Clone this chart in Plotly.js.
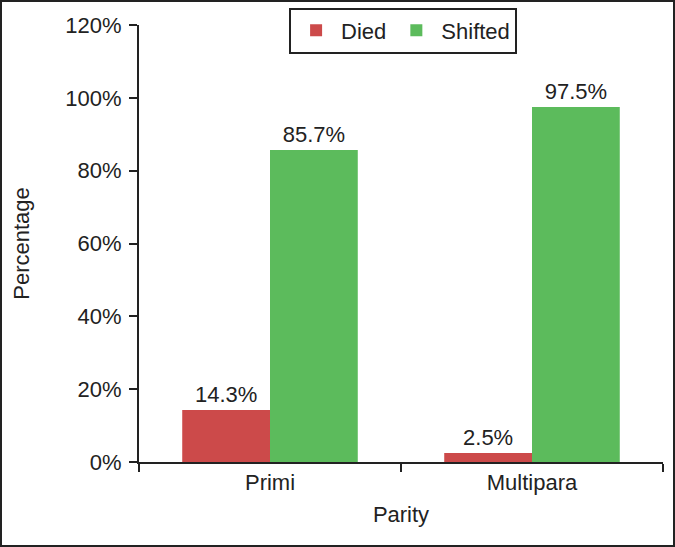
<!DOCTYPE html>
<html>
<head>
<meta charset="utf-8">
<script src="https://cdn.plot.ly/plotly-3.0.1.min.js"></script>
<style>
html,body{margin:0;padding:0;background:#fff;}
#chart{width:671px;height:543px;border:2px solid #222;}
</style>
</head>
<body>
<div id="chart"></div>
<script>
const categories = ["Primi", "Multipara"];
const died = [14.3, 2.5];
const shifted = [85.7, 97.5];
const yTickVals = [0, 20, 40, 60, 80, 100, 120];
const yTickText = ["0%", "20%", "40%", "60%", "80%", "100%", "120%"];

const font = {family: "Liberation Sans, Arial, sans-serif", color: "#222", size: 22};

const traces = [
  {type: "bar", name: "Died", x: categories, y: died,
   marker: {color: "#CC4A4A"},
   text: died.map(v => v.toFixed(1) + "%"), textposition: "outside",
   textfont: font, cliponaxis: false, hoverinfo: "skip"},
  {type: "bar", name: "Shifted", x: categories, y: shifted,
   marker: {color: "#5CBB5C"},
   text: shifted.map(v => v.toFixed(1) + "%"), textposition: "outside",
   textfont: font, cliponaxis: false, hoverinfo: "skip"}
];

const layout = {
  width: 671, height: 543,
  margin: {l: 137, r: 10, t: 23, b: 83, autoexpand: false},
  paper_bgcolor: "#fff", plot_bgcolor: "#fff",
  font: font,
  barmode: "group", bargap: 0.33, bargroupgap: 0,
  showlegend: true,
  legend: {orientation: "h", x: 0.504, xanchor: "center", y: 1.04, yanchor: "top",
           bordercolor: "#222", borderwidth: 2, font: font,
           traceorder: "normal", itemwidth: 40},
  xaxis: {showline: true, linecolor: "#222", linewidth: 2, ticks: "outside", tickson: "boundaries",
          ticklen: 8, tickwidth: 2, tickcolor: "#222", showgrid: false, zeroline: false,
          tickfont: font, title: {text: "Parity", font: font, standoff: 12}},
  yaxis: {range: [0, 120], tickvals: yTickVals, ticktext: yTickText, showline: true,
          linecolor: "#222", linewidth: 2, ticks: "outside", ticklen: 8, tickwidth: 2,
          tickcolor: "#222", showgrid: false, zeroline: false, tickfont: font,
          ticklabelstandoff: 3,
          title: {text: "Percentage", font: font, standoff: 30}}
};

Plotly.newPlot("chart", traces, layout, {displayModeBar: false, staticPlot: true});
</script>
</body>
</html>
